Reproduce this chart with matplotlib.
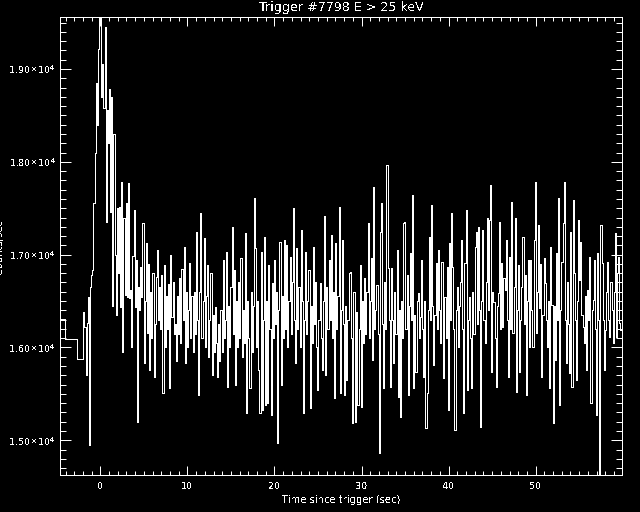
import matplotlib
matplotlib.use("Agg")
import matplotlib.pyplot as plt
import numpy as np
from matplotlib.ticker import FixedLocator, MultipleLocator, FixedFormatter

# ---------------- data ----------------
title = "Trigger #7798 E > 25 keV"
xlabel = "Time since trigger (sec)"
ylabel = "Counts/sec"

# pre-trigger (coarse) bins
pre_edges = [-4.60, -4.09, -2.73, -1.95]
pre_rates = [16306, 16088, 15872]

# fine-resolution bins start here
t_start = -1.95
bin_width = 0.128

rates_burst_rise = [16380, 16220, 15700, 16260, 16540, 14950, 16650, 16780,
                    16830, 17560, 18100, 18850, 18400, 19220, 19700, 19650]
rates_burst_peak = [18700, 19050, 18580, 19450, 17350, 18560, 18200, 18780,
                    17460, 18700, 16450, 18300, 17000, 16350, 17500, 16800]
rates_burst_tail = [17510, 16440, 17786, 15953, 17400, 16560]

rates_3_to_11 = [17553, 16540, 17770, 16530, 16620, 16010, 16980, 17480, 16440, 16940,
                 15200, 16650, 16400, 16870, 16546, 17337, 15830, 16500, 17122, 16155,
                 16900, 15760, 16600, 16100, 16800, 15680, 16250, 16760, 17050, 16300,
                 16650, 16200, 16780, 15505, 16888, 16000, 16550, 16200, 16680, 15560,
                 17000, 16330, 16700, 16150, 16250, 15850, 16550, 16150, 16750, 16050,
                 16850, 16300, 17086, 15830, 16600, 16000, 16400, 16906, 16100, 16550,
                 15950, 16600, 16150]

rates_11_to_19 = [17247, 16300, 15487, 16600, 17445, 16100, 16500, 17176, 16000, 16550,
                  16888, 15900, 16300, 16798, 15703, 16350, 15950, 16440, 16050, 15685,
                  16250, 15850, 16400, 15950, 16942, 16100, 16300, 17032, 15577, 16450,
                  16000, 16650, 17301, 16150, 16834, 15595, 16500, 16000, 16700, 16100,
                  16960, 15900, 16400, 16050, 17230, 15290, 16500, 16100, 15560, 16600,
                  15950, 16450, 17607, 17068, 16000, 16500, 15757, 15290, 17030, 15326,
                  16300, 17193, 15380]

rates_19_to_29 = [16500, 15400, 16888, 16200, 15272, 16690, 16100, 16942, 16250, 16600,
                  14967, 16400, 17140, 15595, 16550, 16100, 17158, 16200, 17100, 16000,
                  16500, 16978, 16150, 16700, 17499, 16300, 15829, 17068, 16200, 16650,
                  16000, 17265, 16500, 15290, 16300, 17032, 16150, 16500, 16834, 15344,
                  16450, 16050, 17086, 16250, 16700, 16000, 15541, 16300, 16690, 16100,
                  15757, 16500, 17416, 15703, 16655, 16200, 16942, 16300, 17211, 16100,
                  16600, 15452, 17122, 16200, 16550, 17510, 15505, 16400, 17158, 16250,
                  15487, 16450, 15649, 16300, 16798, 16816, 16100, 15182, 16600]

rates_29_to_39 = [16601, 15200, 16386, 15380, 16200, 16888, 15362, 16500, 16050, 16745,
                  16150, 16600, 17337, 16100, 16500, 16960, 15865, 17725, 16200, 16400,
                  16673, 16150, 14866, 17247, 17553, 16250, 15559, 16700, 16200, 17966,
                  16852, 16300, 15577, 16852, 16300, 15829, 16600, 16150, 17050, 15470,
                  16400, 15254, 16500, 16100, 17337, 17355, 16200, 16780, 15487, 16450,
                  17014, 16300, 17643, 15559, 16350, 15739, 16500, 16583, 16100, 16332,
                  16942, 16200, 15685, 16500, 15136, 15505, 16400, 17193, 16300, 17535,
                  16450, 15810, 16350, 16906, 16200, 17050, 16400, 16044, 16924]

rates_39_to_49 = [16924, 15667, 16547, 16100, 16870, 15326, 17122, 16300, 17445, 16870,
                  16200, 15110, 16403, 16650, 16008, 16450, 16709, 17158, 16200, 15290,
                  16906, 17481, 15541, 16300, 16547, 16100, 15559, 16600, 16150, 17086,
                  17247, 16250, 17301, 16400, 15146, 16500, 17265, 16300, 16044, 16700,
                  17391, 16400, 17373, 17750, 15739, 16600, 16493, 16100, 15577, 16450,
                  16583, 17355, 16200, 16906, 16224, 16750, 16619, 17158, 16300, 15685,
                  16978, 16200, 17570, 16152, 16650, 17391, 15523, 16400, 16888, 15739,
                  16300, 16655, 17193, 16250, 16780, 15487, 16500, 16942, 16008]

rates_49_to_60 = [16942, 16400, 16008, 17158, 17786, 16152, 16600, 17319, 16421, 16900,
                  15685, 16350, 16960, 16690, 16300, 16008, 16500, 15559, 17086, 16457,
                  15182, 16450, 15865, 17014, 16300, 17607, 15380, 16400, 16924, 17337,
                  17786, 16300, 15829, 16709, 16250, 15721, 17247, 15577, 17589, 16798,
                  16300, 15649, 16500, 17373, 16727, 17140, 16350, 16224, 16044, 16550,
                  15757, 16619, 16300, 16978, 15398, 16400, 16511, 16942, 16200, 15272,
                  17014, 16300, 14400, 17319, 16906, 16300, 15757, 16188, 16600, 16924,
                  16300, 16116, 16709, 16400, 16044, 16600, 17230, 16116, 16798, 16978,
                  16260, 16188, 16600]

x_range = (-4.60, 59.92)
y_range = (14626, 19560)
x_major = [0, 10, 20, 30, 40, 50]
y_major = [15000, 16000, 17000, 18000, 19000]
y_labels = [r"1.50$\times$10$^{4}$", r"1.60$\times$10$^{4}$", r"1.70$\times$10$^{4}$",
            r"1.80$\times$10$^{4}$", r"1.90$\times$10$^{4}$"]

# ---------------- assemble ----------------
fine_rates = (rates_burst_rise + rates_burst_peak + rates_burst_tail + rates_3_to_11 +
              rates_11_to_19 + rates_19_to_29 + rates_29_to_39 + rates_39_to_49 +
              rates_49_to_60)
fine_edges = t_start + bin_width * np.arange(len(fine_rates) + 1)
edges = np.concatenate([np.array(pre_edges[:-1]), fine_edges])
rates = np.array(pre_rates + fine_rates, dtype=float)

# ---------------- plot ----------------
plt.rcParams["mathtext.fontset"] = "dejavusans"
plt.rcParams["mathtext.default"] = "regular"
plt.rcParams["font.family"] = ["DejaVu Sans"]
plt.rcParams["text.antialiased"] = False

fig = plt.figure(figsize=(6.4, 5.12), dpi=100, facecolor="black")
ax = fig.add_axes([60.3 / 640, 1 - 475 / 512, (622 - 60.3) / 640, (475 - 17) / 512])
ax.set_facecolor("black")

ax.stairs(rates, edges, baseline=None, color="white", linewidth=0.72, antialiased=False)

ax.set_xlim(*x_range)
ax.set_ylim(*y_range)

ax.xaxis.set_major_locator(FixedLocator(x_major))
ax.xaxis.set_minor_locator(MultipleLocator(1))
ax.yaxis.set_major_locator(FixedLocator(y_major))
ax.yaxis.set_major_formatter(FixedFormatter(y_labels))
ax.yaxis.set_minor_locator(MultipleLocator(100))

for sp in ax.spines.values():
    sp.set_color("white")
    sp.set_linewidth(0.72)
    sp.set_antialiased(False)

ax.tick_params(which="both", direction="in", top=True, right=True,
               colors="white", width=0.72, labelsize=6.8)
ax.tick_params(axis="x", which="major", length=6.3, pad=5)
ax.tick_params(axis="x", which="minor", length=3.1)
ax.tick_params(axis="y", which="major", length=7.9, pad=3.5)
ax.tick_params(axis="y", which="minor", length=4.0)

ax.set_title(title, color="white", fontsize=9.1, pad=4)
ax.set_xlabel(xlabel, color="white", fontsize=7.2, labelpad=3)
fig.text(4.5 / 640, 1 - 246 / 512, ylabel, rotation=90, ha="right", va="center",
         color="white", fontsize=7.2)

fig.savefig("out.png", dpi=100, facecolor="black")
